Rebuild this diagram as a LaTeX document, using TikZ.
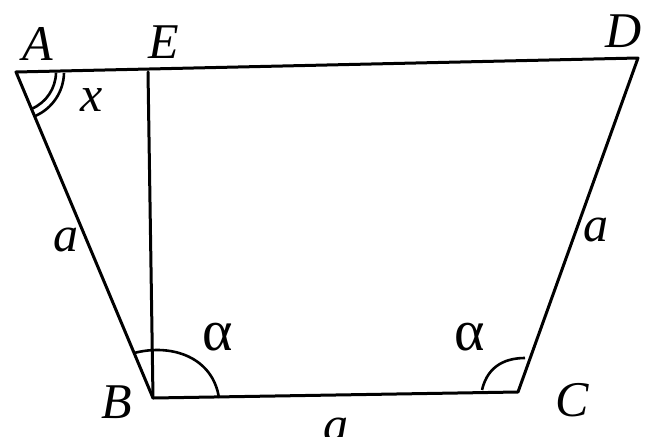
\documentclass[tikz,border=0pt]{standalone}
\usetikzlibrary{calc}
\usepackage{fontspec}
\setmainfont{Liberation Serif}
\begin{document}
\begin{tikzpicture}[x=1pt,y=-1pt,
  edge/.style={line width=3pt,line cap=round,line join=round},
  arcline/.style={line width=2.6pt},
  lbl/.style={font=\fontsize{50}{50}\selectfont\itshape,inner sep=0pt},
  greek/.style={font=\fontsize{58}{58}\selectfont,inner sep=0pt}]
\useasboundingbox (0,0) rectangle (655,436);
\coordinate (A) at (16,72);
\coordinate (E) at (148,72);
\coordinate (D) at (638,58);
\coordinate (B) at (153,398);
\coordinate (C) at (518,392);
\draw[edge] (A) -- (D) -- (C) -- (B) -- cycle;
\draw[edge] (E) -- (B);
% angle at A (double arc)
\draw[arcline] ($(A)+(1:40)$) arc[start angle=1, end angle=67, radius=40];
\draw[arcline] ($(A)+(1:48)$) arc[start angle=1, end angle=67, radius=48];
% angle at B
\draw[arcline] ($(B)+(-19,-45)$) .. controls ($(B)+(20,-55)$) and ($(B)+(60,-40)$) .. ($(B)+(66,0)$);
% angle at C
\draw[arcline] ($(C)+(-36,-2)$) .. controls ($(C)+(-30,-28)$) and ($(C)+(-10,-34)$) .. ($(C)+(7,-34)$);
\node[lbl] (lA) at (38,44) {A};
\node[lbl] (lE) at (164,42) {E};
\node[lbl] (lD) at (624,31) {D};
\node[lbl] (lx) at (92,100) {x};
\node[lbl] (la1) at (66,240) {a};
\node[lbl] (la2) at (596,230) {a};
\node[lbl] (la3) at (336,430) {a};
\node[lbl] (lB) at (117,402) {B};
\node[lbl] (lC) at (572,400) {C};
\node[greek] (al1) at (218,337) {α};
\node[greek] (al2) at (470,337) {α};
\end{tikzpicture}
\end{document}
